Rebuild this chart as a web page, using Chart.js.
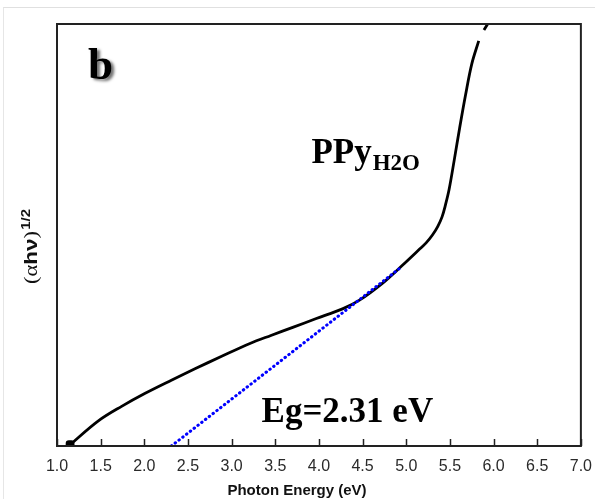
<!DOCTYPE html>
<html>
<head>
<meta charset="utf-8">
<script src="https://cdn.jsdelivr.net/npm/chart.js@4.4.1/dist/chart.umd.min.js"></script>
<style>
  html, body { margin: 0; padding: 0; background: #fff; }
  #wrap { position: relative; width: 595px; height: 499px; }
  #frame { position: absolute; left: 3px; top: 7px; right: 0; bottom: 0; border-left: 1px solid #e6e6e6; border-top: 1px solid #e0e0e0; pointer-events: none; }
  canvas { position: absolute; left: 0; top: 0; }
</style>
</head>
<body>
<div id="wrap">
  <canvas id="c" width="595" height="499"></canvas>
  <div id="frame"></div>
</div>
<script>
// ---- data ----
const energy = [1.15, 1.47, 1.74, 2.01, 2.31, 2.58, 2.88, 3.21, 3.45, 3.70, 3.97, 4.27, 4.46, 4.73, 4.95, 5.15, 5.23, 5.30, 5.36, 5.41, 5.45, 5.49, 5.55, 5.61, 5.68, 5.75, 5.83, 5.86, 5.89, 5.95];
const absorb = [0.03, 0.59, 0.94, 1.25, 1.56, 1.83, 2.12, 2.43, 2.62, 2.81, 3.02, 3.25, 3.45, 3.86, 4.27, 4.66, 4.82, 5.00, 5.20, 5.43, 5.72, 6.07, 6.78, 7.52, 8.33, 9.05, 9.60, null, 9.86, 10.06];
const fitX = [2.31, 4.95];
const fitY = [0, 4.25];
const xTicks = [1.0, 1.5, 2.0, 2.5, 3.0, 3.5, 4.0, 4.5, 5.0, 5.5, 6.0, 6.5, 7.0];
const xTitle = 'Photon Energy (eV)';
const panelLabel = 'b';
const sampleMain = 'PPy';
const sampleSub = 'H2O';
const gapLabel = 'Eg=2.31 eV';

const curve = energy.map((x, i) => ({ x: x, y: absorb[i] }));
const fit = fitX.map((x, i) => ({ x: x, y: fitY[i] }));

const decor = {
  id: 'decor',
  afterDraw(chart) {
    const ctx = chart.ctx;
    const a = chart.chartArea;
    const xs = chart.scales.x, ys = chart.scales.y;
    ctx.save();
    // frame
    ctx.strokeStyle = '#222';
    ctx.lineWidth = 2;
    ctx.strokeRect(a.left, a.top, a.right - a.left, a.bottom - a.top);
    // inward ticks
    ctx.lineWidth = 1.5;
    xTicks.forEach(v => {
      const px = Math.round(xs.getPixelForValue(v)) + 0.5;
      ctx.beginPath();
      ctx.moveTo(px, a.bottom);
      ctx.lineTo(px, a.bottom - 7);
      ctx.stroke();
    });
    // x title
    ctx.fillStyle = '#111';
    ctx.font = 'bold 15px "Liberation Sans", Arial, sans-serif';
    ctx.textAlign = 'center';
    ctx.textBaseline = 'alphabetic';
    ctx.fillText(xTitle, 297, 495);

    // y title (rotated)
    ctx.save();
    ctx.translate(37, 284);
    ctx.rotate(-Math.PI / 2);
    ctx.scale(1.25, 1);
    ctx.textAlign = 'left';
    let cx = 0;
    const part = (t, f, dy) => { ctx.font = f; ctx.fillText(t, cx, dy || 0); cx += ctx.measureText(t).width; };
    part('(', '18px "Liberation Serif", "Times New Roman", serif');
    part('\u03B1', '18px "Liberation Serif", "Times New Roman", serif');
    part('h\u03BD', 'bold 18px "Liberation Sans", Arial, sans-serif');
    part(')', '18px "Liberation Serif", "Times New Roman", serif');
    cx += 1;
    part('1/2', 'bold 12px "Liberation Sans", Arial, sans-serif', -7);
    ctx.restore();

    // panel label b with soft shadow
    ctx.save();
    ctx.font = 'bold 45px "Liberation Serif", "Times New Roman", serif';
    ctx.textAlign = 'left';
    ctx.shadowColor = 'rgba(0,0,0,0.55)';
    ctx.shadowOffsetX = 3;
    ctx.shadowOffsetY = 2;
    ctx.shadowBlur = 3;
    ctx.fillStyle = '#000';
    ctx.fillText(panelLabel, xs.getPixelForValue(1.354), ys.getPixelForValue(8.69));
    ctx.restore();

    // sample label
    ctx.fillStyle = '#000';
    ctx.textAlign = 'left';
    ctx.font = 'bold 35px "Liberation Serif", "Times New Roman", serif';
    const sx = xs.getPixelForValue(3.914), sy = ys.getPixelForValue(6.706);
    ctx.fillText(sampleMain, sx, sy);
    const w = ctx.measureText(sampleMain).width;
    ctx.font = 'bold 23px "Liberation Serif", "Times New Roman", serif';
    ctx.fillText(sampleSub, sx + w + 1, sy + 7);

    // band gap label
    ctx.font = 'bold 35px "Liberation Serif", "Times New Roman", serif';
    ctx.fillText(gapLabel, xs.getPixelForValue(3.343), ys.getPixelForValue(0.569));
    ctx.restore();
  }
};

new Chart(document.getElementById('c'), {
  type: 'line',
  data: {
    datasets: [
      {
        data: fit,
        borderColor: '#0000ff',
        borderWidth: 3.1,
        borderDash: [0.4, 4.4],
        borderCapStyle: 'round',
        pointRadius: 0,
        fill: false
      },
      {
        data: curve,
        borderColor: '#000',
        borderWidth: 2.8,
        tension: 0.35,
        spanGaps: false,
        pointRadius: curve.map((p, i) => i === 0 ? 3.5 : 0),
        pointBackgroundColor: '#000',
        pointBorderColor: '#000',
        pointStyle: 'rectRounded',
        fill: false
      }
    ]
  },
  options: {
    responsive: false,
    animation: false,
    events: [],
    layout: { padding: { left: 0, top: 24, right: 13, bottom: 0 } },
    plugins: { legend: { display: false }, tooltip: { enabled: false }, title: { display: false } },
    scales: {
      x: {
        type: 'linear',
        min: 1, max: 7,
        afterBuildTicks: s => { s.ticks = xTicks.map(v => ({ value: v })); },
        afterFit: s => { s.height = 53; },
        grid: { display: false },
        border: { display: false },
        ticks: {
          padding: 3,
          color: '#2a2a2a',
          font: { family: '"Liberation Sans", Arial, sans-serif', size: 16 },
          callback: v => Number(v).toFixed(1),
          maxRotation: 0,
          autoSkip: false
        }
      },
      y: {
        type: 'linear',
        min: 0, max: 10,
        afterFit: s => { s.width = 57; },
        grid: { display: false },
        border: { display: false },
        ticks: { display: false }
      }
    }
  },
  plugins: [decor]
});
</script>
</body>
</html>
